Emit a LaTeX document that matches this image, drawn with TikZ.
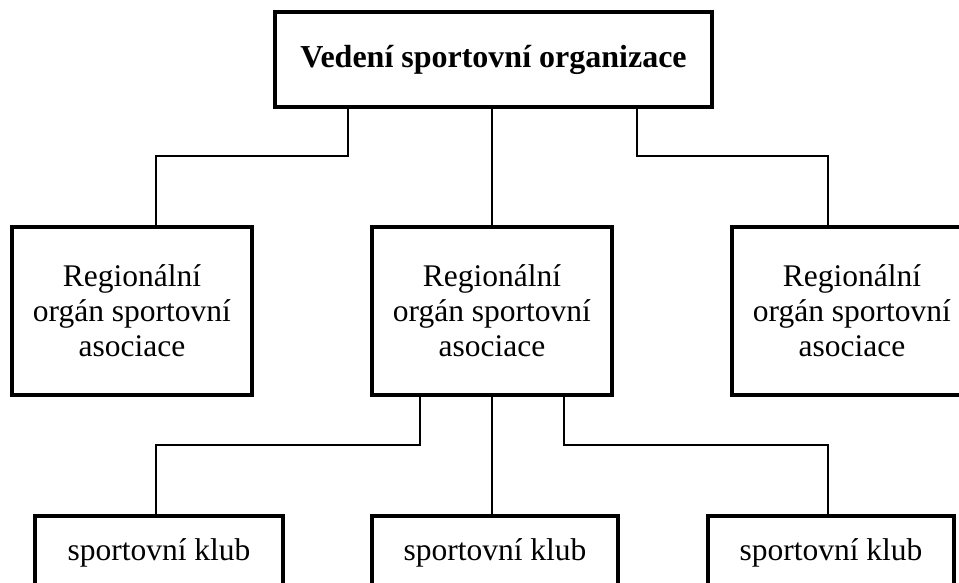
\documentclass[tikz,border=0pt]{standalone}
\usepackage{fontspec}
\setmainfont{Liberation Serif}
\begin{document}
\begin{tikzpicture}[x=1pt,y=-1pt,
  box/.style={draw=black,line width=4pt,rectangle,inner sep=0pt,align=center,
    font=\fontsize{31.5}{35}\selectfont},
  conn/.style={draw=black,line width=2pt}]
\fill[white] (0,0) rectangle (959,583);
\clip (0,0) rectangle (959,583);
\node[box,minimum width=437pt,minimum height=95pt,font=\fontsize{32}{36}\selectfont\bfseries] (top) at (493.5,59.5) {Vedení sportovní organizace};
\node[box,minimum width=240pt,minimum height=168pt] (L) at (132,311) {Regionální\\orgán sportovní\\asociace};
\node[box,minimum width=240pt,minimum height=168pt] (M) at (492,311) {Regionální\\orgán sportovní\\asociace};
\node[box,minimum width=240pt,minimum height=168pt] (R) at (852,311) {Regionální\\orgán sportovní\\asociace};
\node[box,minimum width=248pt,minimum height=74pt] (b1) at (159,553) {sportovní klub};
\node[box,minimum width=246pt,minimum height=74pt] (b2) at (495,553) {sportovní klub};
\node[box,minimum width=246pt,minimum height=74pt] (b3) at (831,553) {sportovní klub};
\draw[conn] ([xshift=-145.5pt]top.south) -- ++(0,47) -| ([xshift=24pt]L.north);
\draw[conn] (M.north |- top.south) -- (M.north);
\draw[conn] ([xshift=143.5pt]top.south) -- ++(0,47) -| ([xshift=-24pt]R.north);
\draw[conn] ([xshift=-72pt]M.south) -- ++(0,48) -| ([xshift=-3pt]b1.north);
\draw[conn] (M.south) -- (M.south |- b2.north);
\draw[conn] ([xshift=72pt]M.south) -- ++(0,48) -| ([xshift=-3pt]b3.north);
\end{tikzpicture}
\end{document}
